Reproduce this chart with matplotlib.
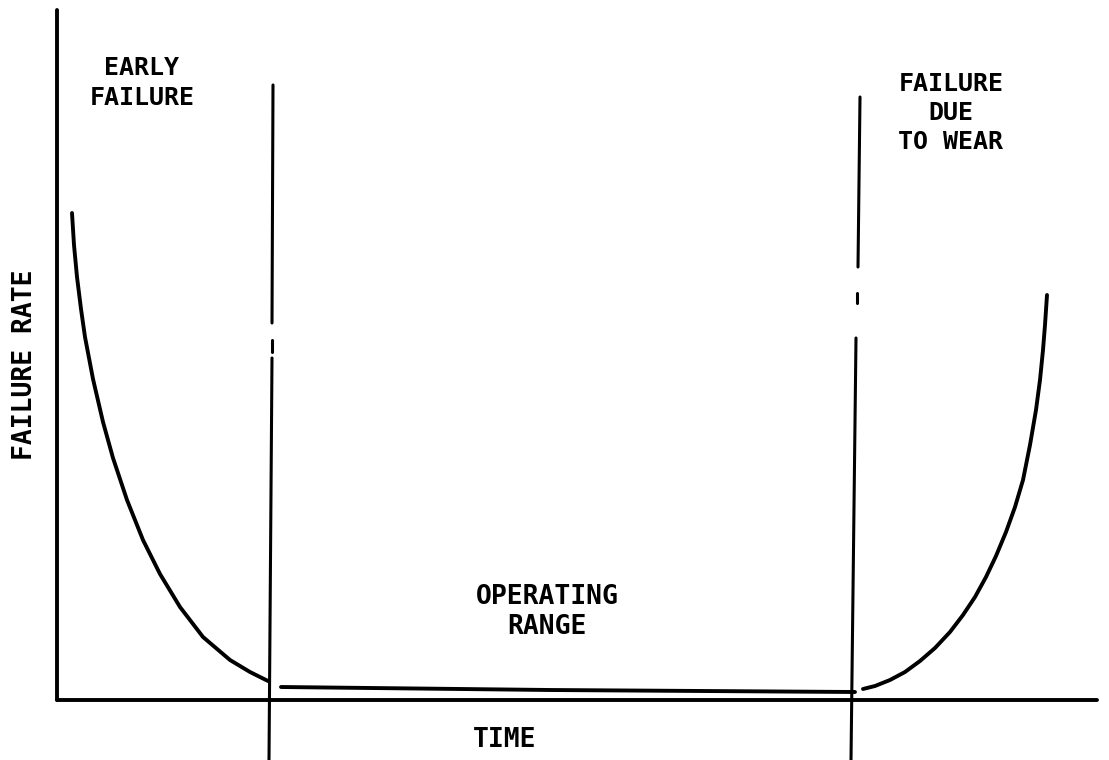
import matplotlib
matplotlib.use("Agg")
import matplotlib.pyplot as plt

# ---- data (time units, failure-rate units; origin at axes corner) ----
early_t = [15, 17, 20, 24, 28, 36, 46, 56, 70, 86, 103, 123, 146, 173, 193, 211]
early_rate = [487, 455, 423, 391, 363, 321, 278, 242, 200, 160, 126, 93, 63, 40, 28, 19]

operating_t = [224, 493, 798]
operating_rate = [13, 10, 8]

wear_t = [806, 818, 833, 848, 863, 878, 893, 906, 918, 929, 939, 949, 958, 966,
          973, 979, 983, 986, 988, 990]
wear_rate = [11, 14, 20, 28, 39, 52, 68, 85, 103, 123, 144, 168, 193, 220,
             255, 290, 320, 350, 375, 405]

# divider segments: (t_top, t_bottom, rate_top, rate_bottom)
left_divider = [(216, 215, 615, 377), (215, 215, 360, 348), (215, 212, 342, -60)]
right_divider = [(803, 801, 603, 433), (800, 800, 407, 397), (799, 794, 362, -60)]

labels = {
    "early": "EARLY\nFAILURE",
    "wear": "FAILURE\nDUE\nTO WEAR",
    "operating": "OPERATING\nRANGE",
    "xlabel": "TIME",
    "ylabel": "FAILURE RATE",
}

W, H = 1109, 760
fig = plt.figure(figsize=(W / 100, H / 100), dpi=100)
ax = fig.add_axes([57 / W, 60 / H, 1040 / W, 690 / H])
ax.set_xlim(0, 1040)
ax.set_ylim(0, 690)
for s in ("top", "right"):
    ax.spines[s].set_visible(False)
for s in ("left", "bottom"):
    ax.spines[s].set_linewidth(2.8)
    ax.spines[s].set_capstyle("round")
ax.set_xticks([])
ax.set_yticks([])

style = dict(color="black", lw=2.8, solid_capstyle="round", solid_joinstyle="round")
ax.plot(early_t, early_rate, **style)
ax.plot(operating_t, operating_rate, **style)
ax.plot(wear_t, wear_rate, **style)

for segs in (left_divider, right_divider):
    for t0, t1, r0, r1 in segs:
        ax.plot([t0, t1], [r0, r1], color="black", lw=2.2,
                solid_capstyle="round", clip_on=False)

font = dict(family="DejaVu Sans Mono", weight="bold", color="black")
ax.text(85, 617, labels["early"], ha="center", va="center", fontsize=18,
        linespacing=1.3, **font)
ax.text(894, 587, labels["wear"], ha="center", va="center", fontsize=18,
        linespacing=1.25, **font)
ax.text(490, 88, labels["operating"], ha="center", va="center", fontsize=19,
        linespacing=1.2, **font)
ax.text(448, -40, labels["xlabel"], ha="center", va="center", fontsize=19,
        clip_on=False, **font)
ax.text(-32, 335, labels["ylabel"], ha="center", va="center", fontsize=19,
        rotation=90, clip_on=False, **font)

fig.savefig("out.png", dpi=100, facecolor="white")
